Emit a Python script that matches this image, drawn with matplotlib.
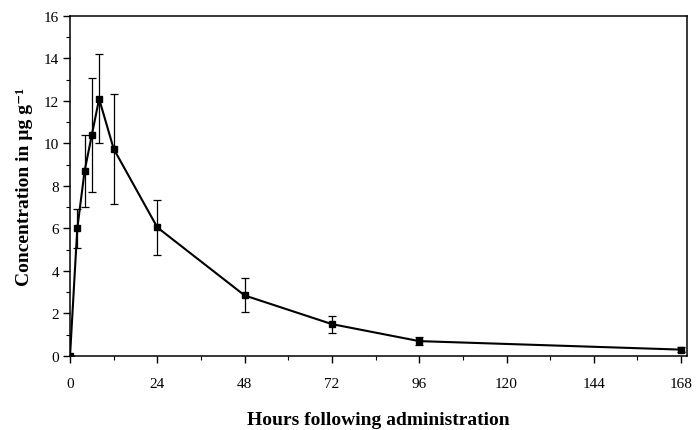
import matplotlib
matplotlib.use("Agg")
import matplotlib.pyplot as plt
from matplotlib.ticker import MultipleLocator

hours = [0, 2, 4, 6, 8, 12, 24, 48, 72, 96, 168]
conc = [0.0, 6.0, 8.7, 10.4, 12.1, 9.75, 6.05, 2.85, 1.5, 0.7, 0.3]
err = [0.0, 0.9, 1.7, 2.7, 2.1, 2.6, 1.3, 0.8, 0.4, 0.2, 0.1]
xticks = [0, 24, 48, 72, 96, 120, 144, 168]
yticks = [0, 2, 4, 6, 8, 10, 12, 14, 16]

plt.rcParams['font.family'] = ['Liberation Serif', 'DejaVu Serif']

fig = plt.figure(figsize=(6.96, 4.31), dpi=100)
ax = fig.add_axes([0.1006, 0.1717, 0.8864, 0.7889])

ax.errorbar(hours, conc, yerr=err, fmt='-', color='black', lw=1.5,
            ecolor='black', elinewidth=0.9, capsize=3, capthick=0.9,
            marker='s', markersize=5, zorder=3)

ax.set_xlim(0, 169.6)
ax.set_ylim(0, 16)
ax.set_xticks(xticks)
ax.set_yticks(yticks)
ax.xaxis.set_minor_locator(MultipleLocator(12))
ax.yaxis.set_minor_locator(MultipleLocator(1))
ax.tick_params(axis='both', which='major', direction='out', length=5, width=1,
               labelsize=11)
ax.tick_params(axis='both', which='minor', direction='out', length=3, width=0.8)
ax.tick_params(axis='x', pad=10)
ax.tick_params(axis='y', pad=3)
for s in ax.spines.values():
    s.set_linewidth(1.1)

ax.set_xlabel('Hours following administration', fontsize=14, fontweight='bold',
              labelpad=15)
ax.set_ylabel('Concentration in µg g⁻¹', fontsize=14, fontweight='bold',
              labelpad=8)

fig.savefig('out.png', dpi=100)
